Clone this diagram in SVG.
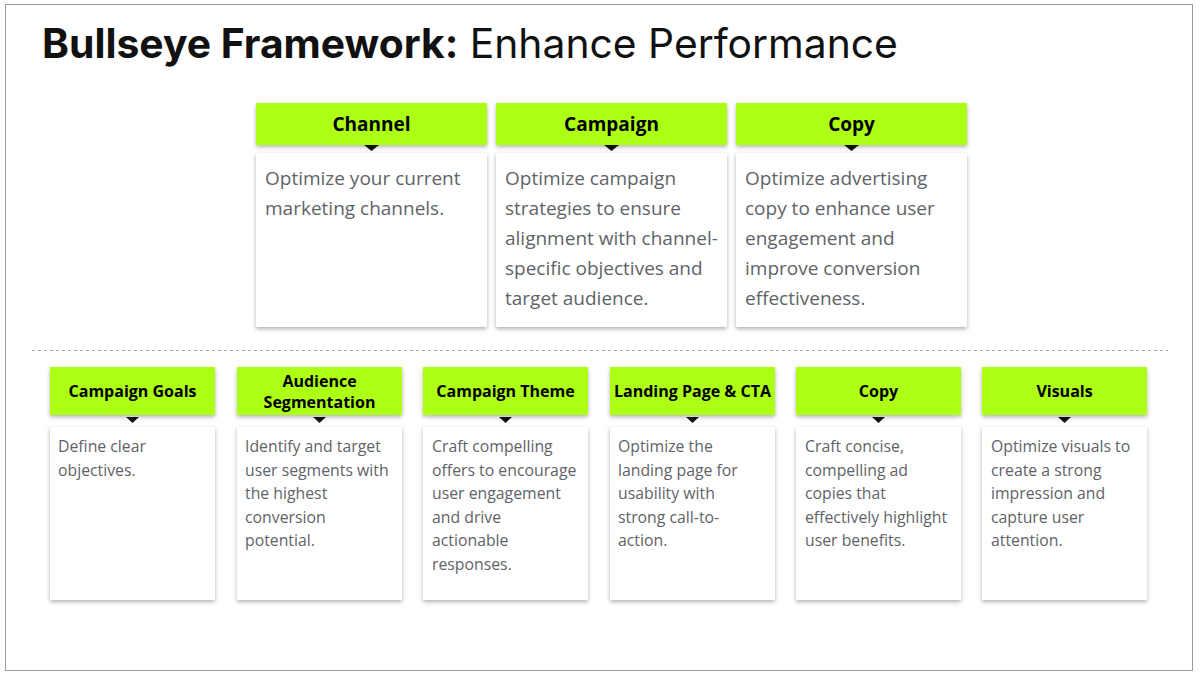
<svg xmlns="http://www.w3.org/2000/svg" width="1200" height="676" viewBox="0 0 1200 676">
<style>
.hdr{fill:#adff12;filter:url(#sh)}
.box{fill:#ffffff;filter:url(#sh)}
.ht{font-family:"Open Sans","Noto Sans",sans-serif;font-weight:700;fill:#000;text-anchor:middle}
.ht1{font-size:19px}
.ht2{font-size:16px}
.bt{font-family:"Open Sans","Noto Sans",sans-serif;fill:#5f6368}
.bt1{font-size:19px}
.bt2{font-size:15.8px}
.tri{fill:#111}
</style>
<defs>
<filter id="sh" x="-10%" y="-10%" width="120%" height="125%">
<feDropShadow dx="0" dy="2" stdDeviation="2" flood-color="#000" flood-opacity="0.3"/>
</filter>
</defs>
<rect x="0" y="0" width="1200" height="676" fill="#fff"/>
<rect x="5.5" y="4.5" width="1187" height="666" fill="#fff" stroke="#9a9a9a" stroke-width="1"/>
<text x="42" y="58" font-family="Inter,'Noto Sans',sans-serif" font-size="40.8" fill="#111"><tspan font-weight="700">Bullseye Framework:</tspan><tspan font-weight="400"> Enhance Performance</tspan></text>

<g id="connectors">
<line x1="32" y1="350.5" x2="1168" y2="350.5" stroke="#aaa" stroke-width="1" stroke-dasharray="3,3"/>
</g>

<g id="top-channel">
<rect class="box" x="256" y="153" width="231" height="174"/>
<rect class="hdr" x="256" y="103" width="231" height="42"/>
<polygon class="tri" points="364,145 379,145 371.5,151"/>
<text class="ht ht1" x="371.5" y="131">Channel</text>
<text class="bt bt1" x="265"><tspan x="265" y="185">Optimize your current</tspan><tspan x="265" y="215">marketing channels.</tspan></text>
</g>
<g id="top-campaign">
<rect class="box" x="496" y="153" width="231" height="174"/>
<rect class="hdr" x="496" y="103" width="231" height="42"/>
<polygon class="tri" points="604,145 619,145 611.5,151"/>
<text class="ht ht1" x="611.5" y="131">Campaign</text>
<text class="bt bt1"><tspan x="505" y="185">Optimize campaign</tspan><tspan x="505" y="215">strategies to ensure</tspan><tspan x="505" y="245">alignment with channel-</tspan><tspan x="505" y="275">specific objectives and</tspan><tspan x="505" y="305">target audience.</tspan></text>
</g>
<g id="top-copy">
<rect class="box" x="736" y="153" width="231" height="174"/>
<rect class="hdr" x="736" y="103" width="231" height="42"/>
<polygon class="tri" points="844,145 859,145 851.5,151"/>
<text class="ht ht1" x="851.5" y="131">Copy</text>
<text class="bt bt1"><tspan x="745" y="185">Optimize advertising</tspan><tspan x="745" y="215">copy to enhance user</tspan><tspan x="745" y="245">engagement and</tspan><tspan x="745" y="275">improve conversion</tspan><tspan x="745" y="305">effectiveness.</tspan></text>
</g>

<g id="campaign-goals">
<rect class="box" x="50" y="427" width="165" height="173"/>
<rect class="hdr" x="50" y="367" width="165" height="48"/>
<polygon class="tri" points="126,417 139,417 132.5,423"/>
<text class="ht ht2" x="132.5" y="397">Campaign Goals</text>
<text class="bt bt2"><tspan x="58" y="452">Define clear</tspan><tspan x="58" y="475.5">objectives.</tspan></text>
</g>
<g id="audience-segmentation">
<rect class="box" x="237" y="427" width="165" height="173"/>
<rect class="hdr" x="237" y="367" width="165" height="48"/>
<polygon class="tri" points="313,417 326,417 319.5,423"/>
<text class="ht ht2"><tspan x="319.5" y="387">Audience</tspan><tspan x="319.5" y="408">Segmentation</tspan></text>
<text class="bt bt2"><tspan x="245" y="452">Identify and target</tspan><tspan x="245" y="475.5">user segments with</tspan><tspan x="245" y="499">the highest</tspan><tspan x="245" y="522.5">conversion</tspan><tspan x="245" y="546">potential.</tspan></text>
</g>
<g id="campaign-theme">
<rect class="box" x="423" y="427" width="165" height="173"/>
<rect class="hdr" x="423" y="367" width="165" height="48"/>
<polygon class="tri" points="499,417 512,417 505.5,423"/>
<text class="ht ht2" x="505.5" y="397">Campaign Theme</text>
<text class="bt bt2"><tspan x="432" y="452">Craft compelling</tspan><tspan x="432" y="475.5">offers to encourage</tspan><tspan x="432" y="499">user engagement</tspan><tspan x="432" y="522.5">and drive</tspan><tspan x="432" y="546">actionable</tspan><tspan x="432" y="569.5">responses.</tspan></text>
</g>
<g id="landing-page">
<rect class="box" x="610" y="427" width="165" height="173"/>
<rect class="hdr" x="610" y="367" width="165" height="48"/>
<polygon class="tri" points="686,417 699,417 692.5,423"/>
<text class="ht ht2" x="692.5" y="397">Landing Page &amp; CTA</text>
<text class="bt bt2"><tspan x="618" y="452">Optimize the</tspan><tspan x="618" y="475.5">landing page for</tspan><tspan x="618" y="499">usability with</tspan><tspan x="618" y="522.5">strong call-to-</tspan><tspan x="618" y="546">action.</tspan></text>
</g>
<g id="copy">
<rect class="box" x="796" y="427" width="165" height="173"/>
<rect class="hdr" x="796" y="367" width="165" height="48"/>
<polygon class="tri" points="872,417 885,417 878.5,423"/>
<text class="ht ht2" x="878.5" y="397">Copy</text>
<text class="bt bt2"><tspan x="805" y="452">Craft concise,</tspan><tspan x="805" y="475.5">compelling ad</tspan><tspan x="805" y="499">copies that</tspan><tspan x="805" y="522.5">effectively highlight</tspan><tspan x="805" y="546">user benefits.</tspan></text>
</g>
<g id="visuals">
<rect class="box" x="982" y="427" width="165" height="173"/>
<rect class="hdr" x="982" y="367" width="165" height="48"/>
<polygon class="tri" points="1058,417 1071,417 1064.5,423"/>
<text class="ht ht2" x="1064.5" y="397">Visuals</text>
<text class="bt bt2"><tspan x="991" y="452">Optimize visuals to</tspan><tspan x="991" y="475.5">create a strong</tspan><tspan x="991" y="499">impression and</tspan><tspan x="991" y="522.5">capture user</tspan><tspan x="991" y="546">attention.</tspan></text>
</g>
</svg>
